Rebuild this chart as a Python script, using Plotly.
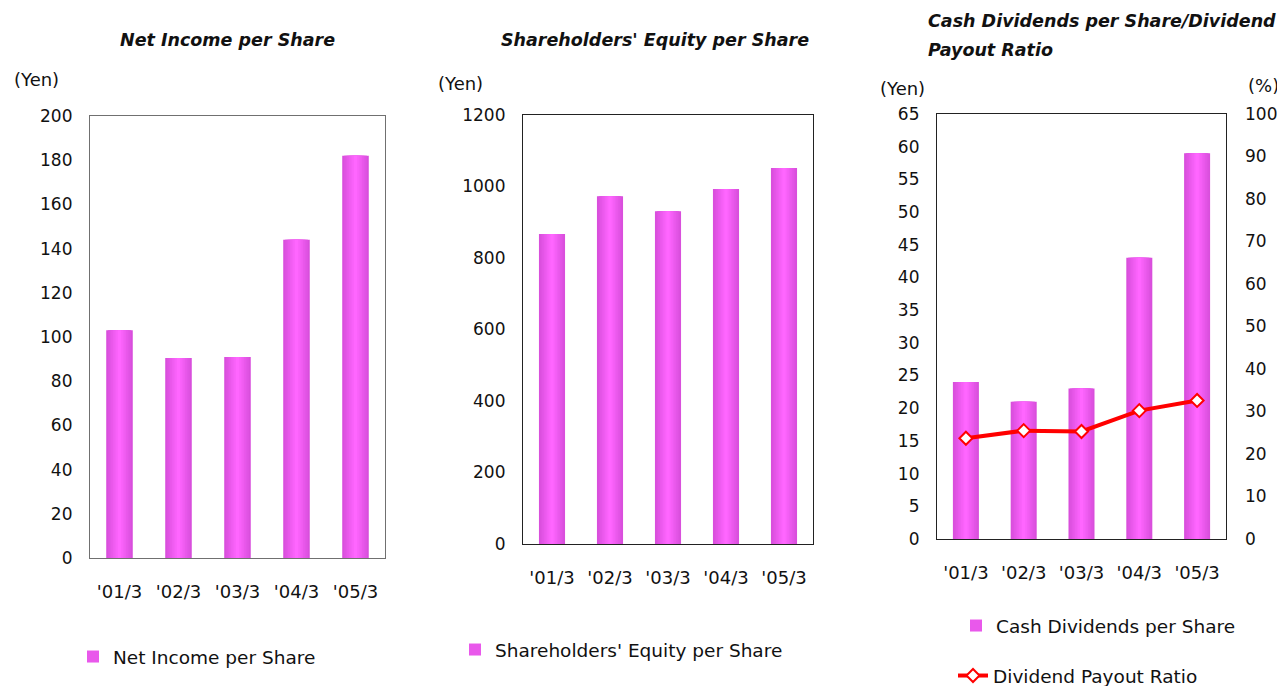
import plotly.graph_objects as go

# ---------------- data ----------------
categories = ["'01/3", "'02/3", "'03/3", "'04/3", "'05/3"]
net_income_per_share = [103, 90.5, 91, 144, 182]
equity_per_share = [867, 973, 931, 993, 1052]
cash_dividends = [24, 21, 23, 43, 59]
payout_ratio = [23.7, 25.5, 25.3, 30.2, 32.6]

# ---------------- style ----------------
FONT = "DejaVu Sans"
TXT = "#111111"
EDGE = (217, 79, 220)
CENTER = (255, 102, 255)
BAR_W = 0.45
N_LAYERS = 8

# the page body has an 8px margin; figure is sized so it fills the window
OFF = 8
W, H = 1285 - OFF, 686 - OFF


def sx(px):
    return (px - OFF) / W


def sy(py):
    return 1 - (py - OFF) / H


def dx(a, b):
    return [sx(a), sx(b)]


def dy(top, bottom):
    return [sy(bottom), sy(top)]


def layer_colors():
    cols = []
    for i in range(N_LAYERS):
        t = i / (N_LAYERS - 1)
        c = tuple(int(EDGE[k] + (CENTER[k] - EDGE[k]) * t) for k in range(3))
        cols.append("rgb(%d,%d,%d)" % c)
    return cols


COLS = layer_colors()

fig = go.Figure()


def add_bars(values, name, xa, ya, legend):
    for i in range(N_LAYERS):
        w = BAR_W * (1 - i / N_LAYERS)
        fig.add_trace(go.Bar(
            x=categories, y=values, width=w, name=name,
            marker=dict(color=COLS[i], line=dict(width=0)),
            xaxis=xa, yaxis=ya, legend=legend,
            showlegend=(i == 3), legendgroup=name,
            hoverinfo="skip" if i else None,
        ))


add_bars(net_income_per_share, "Net Income per Share", "x", "y", "legend")
add_bars(equity_per_share, "Shareholders' Equity per Share", "x2", "y2", "legend2")
add_bars(cash_dividends, "Cash Dividends per Share", "x3", "y3", "legend3")

fig.add_trace(go.Scatter(
    x=categories, y=payout_ratio, name="Dividend Payout Ratio",
    mode="lines+markers", xaxis="x3", yaxis="y4", legend="legend4",
    line=dict(color="#ff0000", width=4),
    marker=dict(symbol="diamond", size=10, color="white",
                line=dict(color="#ff0000", width=2)),
))

tickfont = dict(family=FONT, size=17, color=TXT)
xtickfont = dict(family=FONT, size=18, color=TXT)
legfont = dict(family=FONT, size=18.5, color=TXT)
xcommon = dict(showgrid=False, ticks="", mirror=True, showline=True,
               linewidth=1.2, tickfont=xtickfont, ticklabelstandoff=17,
               fixedrange=True)
ycommon = dict(showgrid=False, ticks="", mirror=True, showline=True,
               linewidth=1.2, tickfont=tickfont, ticklabelstandoff=13,
               zeroline=False, fixedrange=True)

fig.update_layout(
    width=W, height=H,
    margin=dict(l=0, r=0, t=0, b=0, autoexpand=False),
    paper_bgcolor="white", plot_bgcolor="white",
    barmode="overlay",
    font=dict(family=FONT, size=17, color=TXT),
    xaxis=dict(domain=dx(90, 385), anchor="y", linecolor="#707070", **xcommon),
    yaxis=dict(domain=dy(116, 558), anchor="x", range=[0, 200], dtick=20,
               linecolor="#707070", **ycommon),
    xaxis2=dict(domain=dx(523, 813), anchor="y2", linecolor="#222222", **xcommon),
    yaxis2=dict(domain=dy(115, 544), anchor="x2", range=[0, 1200], dtick=200,
                linecolor="#222222", **ycommon),
    xaxis3=dict(domain=dx(937, 1226), anchor="y3", linecolor="#222222", **xcommon),
    yaxis3=dict(domain=dy(114, 539), anchor="x3", range=[0, 65], dtick=5,
                linecolor="#222222", **ycommon),
    yaxis4=dict(overlaying="y3", side="right", anchor="x3", range=[0, 100], dtick=10,
                showgrid=False, ticks="", showline=False, zeroline=False,
                tickfont=tickfont, ticklabelstandoff=18, fixedrange=True),
    legend=dict(x=sx(73), y=sy(657), xanchor="left", yanchor="middle",
                font=legfont, bgcolor="rgba(0,0,0,0)"),
    legend2=dict(x=sx(455), y=sy(650), xanchor="left", yanchor="middle",
                 font=legfont, bgcolor="rgba(0,0,0,0)"),
    legend3=dict(x=sx(956), y=sy(626), xanchor="left", yanchor="middle",
                 font=legfont, bgcolor="rgba(0,0,0,0)"),
    legend4=dict(x=sx(953), y=sy(676), xanchor="left", yanchor="middle",
                 font=legfont, bgcolor="rgba(0,0,0,0)"),
)

title_font = dict(family=FONT, size=17.5, color=TXT)
annos = [
    dict(text="<b><i>Net Income per Share</i></b>", x=sx(227), y=sy(40),
         xanchor="center", yanchor="middle", font=title_font),
    dict(text="<b><i>Shareholders' Equity per Share</i></b>", x=sx(655), y=sy(40),
         xanchor="center", yanchor="middle", font=title_font),
    dict(text="<b><i>Cash Dividends per Share/Dividend</i></b>",
         x=sx(926), y=sy(21), xanchor="left", yanchor="middle", font=title_font),
    dict(text="<b><i>Payout Ratio</i></b>",
         x=sx(926), y=sy(50), xanchor="left", yanchor="middle", font=title_font),
    dict(text="(Yen)", x=sx(37), y=sy(80), xanchor="center", yanchor="middle",
         font=dict(family=FONT, size=18, color=TXT)),
    dict(text="(Yen)", x=sx(460), y=sy(83), xanchor="center", yanchor="middle",
         font=dict(family=FONT, size=18, color=TXT)),
    dict(text="(Yen)", x=sx(902), y=sy(88), xanchor="center", yanchor="middle",
         font=dict(family=FONT, size=18, color=TXT)),
    dict(text="(%)", x=sx(1263), y=sy(86), xanchor="center", yanchor="middle",
         font=dict(family=FONT, size=18, color=TXT)),
]
for a in annos:
    a.update(xref="paper", yref="paper", showarrow=False)
fig.update_layout(annotations=annos)

fig.write_html("out.html")
